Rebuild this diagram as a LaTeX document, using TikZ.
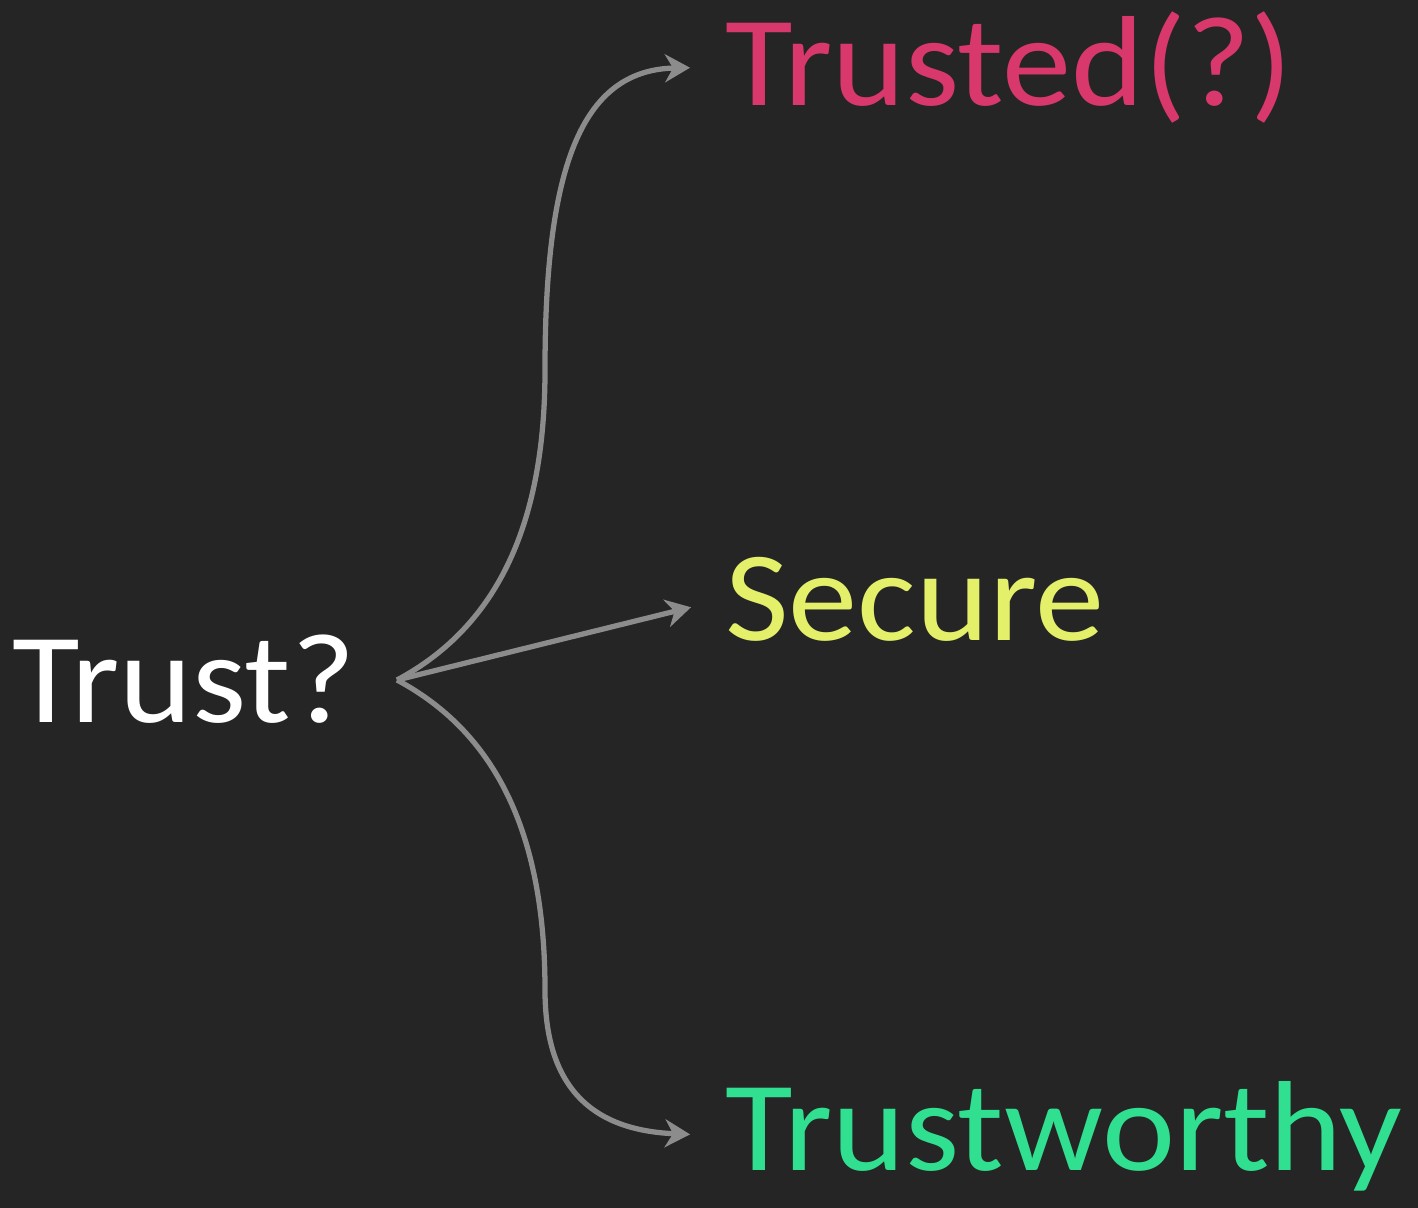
\documentclass[tikz,border=0pt]{standalone}
\usepackage{fontspec}
\setmainfont[FakeStretch=1.08]{Carlito}
\usetikzlibrary{arrows.meta}
\definecolor{bgdark}{HTML}{252525}
\definecolor{linegray}{HTML}{8C8C8C}
\definecolor{trustpink}{HTML}{D8386C}
\definecolor{secyellow}{HTML}{E4F06A}
\definecolor{worthgreen}{HTML}{30E090}
\begin{document}
\begin{tikzpicture}[x=0.02cm, y=-0.02cm,
	word/.style={inner sep=0pt, anchor=base west, font=\fontsize{73}{80}\selectfont},
	branch/.style={draw=linegray, line width=3pt, -{Stealth[length=0.5cm, width=0.56cm, inset=0.16cm]}, shorten >=0.7cm}]
	\fill[bgdark](0, 0) rectangle (1418, 1208);%Hintergrund
	\node[word, text=white] (trust) at (12, 722) {Trust?};
	\node[word, text=trustpink] (trusted) at (725, 105) {Trusted(?)};
	\node[word, text=secyellow] (secure) at (725, 640) {Secure};
	\node[word, text=worthgreen] (worthy) at (725, 1170) {Trustworthy};
	\coordinate (fork) at (397, 680);
	\draw[branch](fork) .. controls (500, 625) and (545, 520) .. (545, 370) .. controls (545, 170) and (580, 70) .. (trusted.west);%oben
	\draw[branch](fork) -- (secure.west);%Mitte
	\draw[branch](fork) .. controls (500, 735) and (545, 840) .. (545, 990) .. controls (545, 1080) and (585, 1130) .. (worthy.west);%unten
\end{tikzpicture}
\end{document}
